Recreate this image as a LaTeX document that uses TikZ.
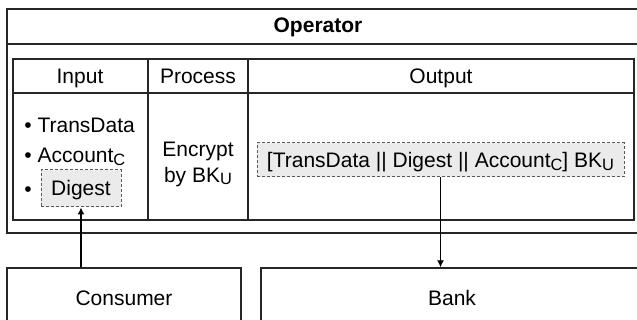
\documentclass[tikz,border=0pt]{standalone}
\usepackage{fontspec}
\setmainfont{Liberation Sans}
\usetikzlibrary{arrows.meta}
\newcommand{\subtext}[1]{\raisebox{-0.14em}{\fontsize{8.2}{8.2}\selectfont #1}}

\begin{document}
\begin{tikzpicture}[x=0.5pt, y=-0.5pt, font=\fontsize{10.5}{13}\selectfont,
        frame/.style={draw=black!85, line width=0.7pt},
        greybox/.style={draw=black!65, dash pattern=on 1.5pt off 1pt, fill=black!8,
            line width=0.5pt, inner sep=0pt, text height=7.5pt, text depth=0pt},
        party/.style={draw=black!85, line width=0.7pt, inner sep=0pt,
            text height=7.5pt, text depth=0pt},
        flow/.style={draw=black, line width=0.6pt, -{Latex[length=3.5pt,width=3.5pt]}}]
            \useasboundingbox (0,0) rectangle (637,320);
            \clip (0,0) rectangle (637,320);
            % operator frame
            \draw[frame] (7,9) rectangle (660,233);
            \draw[frame] (7,44) -- (660,44);
            \node[font=\fontsize{10.5}{13}\selectfont\bfseries, anchor=base] (operator) at (318,33) {Operator};
            % table
            \draw[frame] (13,59) rectangle (634,220);
            \draw[frame] (13,93) -- (634,93);
            \foreach \x in {148, 248}
                \draw[frame] (\x,59) -- (\x,220);
            \node[anchor=base] (hinput) at (80,84) {Input};
            \node[anchor=base] (hprocess) at (198,84) {Process};
            \node[anchor=base] (houtput) at (441,84) {Output};
            % input column
            \node[anchor=base west, inner sep=0pt] (transdata) at (24,133) {\textbullet\ TransData};
            \node[anchor=base west, inner sep=0pt] (account) at (24,163) {\textbullet\ Account\subtext{C}};
            \node[anchor=base west, inner sep=0pt] (dot) at (24,197) {\textbullet};
            \node[greybox, minimum width=40pt, minimum height=18.5pt] (digest) at (81,188.5) {Digest};
            % process column
            \node[align=center] (encrypt) at (198,164) {Encrypt\\by BK\subtext{U}};
            % output column
            \node[greybox, minimum width=183.5pt, minimum height=17pt] (cipher) at (440.5,160)
                {[TransData || Digest || Account\subtext{C}] BK\subtext{U}};
            % parties
            \node[party, minimum width=117pt, minimum height=30pt] (consumer) at (124,298) {Consumer};
            \node[party, minimum width=191pt, minimum height=30pt] (bank) at (452,298) {Bank};
            \draw[flow] (digest.south |- consumer.north) -- (digest.south);
            \draw[flow] (cipher.south) -- (cipher.south |- bank.north);
        \end{tikzpicture}
\end{document}
